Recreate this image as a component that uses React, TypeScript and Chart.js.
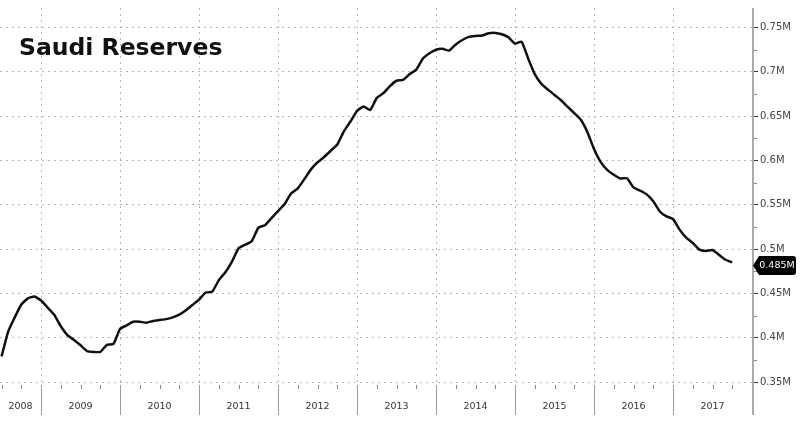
import React, { useEffect, useRef } from "react";
import { Chart, registerables } from "chart.js";

Chart.register(...registerables);

// Monthly series, June 2008 (month-end) through September 2017
const startYear = 2008;
const startMonth = 6; // June
const reserves: number[] = [
  0.379, 0.407, 0.423, 0.4375, 0.4445, 0.4465, 0.442,
  0.434, 0.426, 0.413, 0.403, 0.3975, 0.3915, 0.385, 0.384, 0.384, 0.392, 0.393, 0.41,
  0.414, 0.418, 0.418, 0.417, 0.419, 0.42, 0.421, 0.423, 0.426, 0.431, 0.437, 0.443,
  0.451, 0.452, 0.465, 0.474, 0.486, 0.501, 0.505, 0.509, 0.524, 0.527, 0.535, 0.543,
  0.551, 0.563, 0.5686, 0.579, 0.59, 0.598, 0.604, 0.611, 0.618, 0.633, 0.644, 0.656,
  0.661, 0.657, 0.6707, 0.676, 0.684, 0.69, 0.691, 0.6975, 0.7025, 0.715, 0.721, 0.725,
  0.726, 0.724, 0.731, 0.736, 0.7395, 0.7405, 0.741, 0.7435, 0.744, 0.7425, 0.739, 0.732,
  0.734, 0.715, 0.6975, 0.6865, 0.68, 0.674, 0.668, 0.6605, 0.6535, 0.646, 0.632, 0.613,
  0.5985, 0.5895, 0.584, 0.5797, 0.58, 0.5697, 0.566, 0.5618, 0.554, 0.5425, 0.537, 0.534,
  0.522, 0.513, 0.507, 0.4995, 0.498, 0.499, 0.4935, 0.488, 0.485,
];

const yearLabels: string[] = ["2008", "2009", "2010", "2011", "2012", "2013", "2014", "2015", "2016", "2017"];
const yearBoundaries: number[] = [2009, 2010, 2011, 2012, 2013, 2014, 2015, 2016, 2017, 2018];
const yTickValues: number[] = [0.35, 0.4, 0.45, 0.5, 0.55, 0.6, 0.65, 0.7, 0.75];
const yTickLabels: string[] = ["0.35M", "0.4M", "0.45M", "0.5M", "0.55M", "0.6M", "0.65M", "0.7M", "0.75M"];
const lastLabel = "0.485M";
const title = "Saudi Reserves";

const X_MIN = 2008.48;
const X_MAX = 2018;

export default function App() {
  const ref = useRef<HTMLCanvasElement>(null);

  useEffect(() => {
    if (!ref.current) return;
    const points = reserves.map((v, i) => ({
      x: startYear + (startMonth + i) / 12,
      y: v,
    }));

    const decor = {
      id: "decor",
      afterDraw(chart: any) {
        const ctx = chart.ctx;
        const xs = chart.scales.x;
        const ys = chart.scales.y;
        const area = chart.chartArea;
        const bandBottom = 415;
        ctx.save();

        // right axis line, full height
        ctx.strokeStyle = "#aaaaaa";
        ctx.lineWidth = 2;
        ctx.beginPath();
        ctx.moveTo(area.right + 1, area.top);
        ctx.lineTo(area.right + 1, bandBottom);
        ctx.stroke();

        // year separators
        ctx.strokeStyle = "#999999";
        ctx.lineWidth = 1;
        yearBoundaries.slice(0, -1).forEach((yr) => {
          const px = Math.round(xs.getPixelForValue(yr)) + 0.5;
          ctx.beginPath();
          ctx.moveTo(px, area.bottom + 1);
          ctx.lineTo(px, bandBottom);
          ctx.stroke();
        });

        // quarterly minor ticks
        ctx.strokeStyle = "#888888";
        for (let yr = 2008; yr < 2018; yr++) {
          for (let q = 1; q < 4; q++) {
            const v = yr + q / 4;
            if (v < X_MIN) continue;
            const px = Math.round(xs.getPixelForValue(v)) + 0.5;
            ctx.beginPath();
            ctx.moveTo(px, area.bottom + 1);
            ctx.lineTo(px, area.bottom + 5);
            ctx.stroke();
          }
        }

        // y minor ticks
        for (let i = 0; i < yTickValues.length - 1; i++) {
          const v = (yTickValues[i] + yTickValues[i + 1]) / 2;
          const py = Math.round(ys.getPixelForValue(v)) + 0.5;
          ctx.beginPath();
          ctx.moveTo(area.right + 2, py);
          ctx.lineTo(area.right + 5, py);
          ctx.stroke();
        }

        // year labels
        ctx.fillStyle = "#333333";
        ctx.font = "9.5px 'DejaVu Sans'";
        ctx.textAlign = "center";
        ctx.textBaseline = "middle";
        yearLabels.forEach((lab, i) => {
          const yr = 2008 + i;
          const a = xs.getPixelForValue(Math.max(X_MIN, yr));
          const b = xs.getPixelForValue(Math.min(X_MAX, yr + 1));
          ctx.fillText(lab, (a + b) / 2, 407);
        });

        // title
        ctx.fillStyle = "#111111";
        ctx.font = "bold 23.5px 'DejaVu Sans'";
        ctx.textAlign = "left";
        ctx.textBaseline = "alphabetic";
        ctx.fillText(title, 19, 55);

        // last value label
        const lastV = reserves[reserves.length - 1];
        const cy = ys.getPixelForValue(lastV) + 3;
        const x0 = area.right + 1;
        const x1 = 796;
        const h = 19;
        const r = 3;
        ctx.fillStyle = "#000000";
        ctx.beginPath();
        ctx.moveTo(x0, cy);
        ctx.lineTo(x0 + 6, cy - h / 2);
        ctx.lineTo(x1 - r, cy - h / 2);
        ctx.quadraticCurveTo(x1, cy - h / 2, x1, cy - h / 2 + r);
        ctx.lineTo(x1, cy + h / 2 - r);
        ctx.quadraticCurveTo(x1, cy + h / 2, x1 - r, cy + h / 2);
        ctx.lineTo(x0 + 6, cy + h / 2);
        ctx.closePath();
        ctx.fill();
        ctx.fillStyle = "#ffffff";
        ctx.font = "9.5px 'DejaVu Sans'";
        ctx.textAlign = "center";
        ctx.textBaseline = "middle";
        ctx.fillText(lastLabel, (x0 + 5 + x1) / 2, cy + 0.5);

        ctx.restore();
      },
    };

    const chart = new Chart(ref.current, {
      type: "line",
      data: {
        datasets: [
          {
            data: points,
            borderColor: "#111111",
            borderWidth: 2.5,
            pointRadius: 0,
            tension: 0.15,
            fill: false,
          },
        ],
      },
      options: {
        animation: false,
        responsive: true,
        maintainAspectRatio: false,
        layout: { padding: 0 },
        plugins: {
          legend: { display: false },
          tooltip: { enabled: false },
          title: { display: false },
        },
        scales: {
          x: {
            type: "linear",
            min: X_MIN,
            max: X_MAX,
            afterBuildTicks: (s: any) => {
              s.ticks = yearBoundaries.slice(0, -1).map((v) => ({ value: v }));
            },
            afterFit: (s: any) => {
              s.height = 39;
            },
            ticks: { display: false },
            grid: {
              color: "#b5b5b5",
              lineWidth: 1,
              drawTicks: false,
            },
            border: { display: false, dash: [2, 4] },
          },
          y: {
            type: "linear",
            position: "right",
            min: 0.3478,
            max: 0.7721,
            afterBuildTicks: (s: any) => {
              s.ticks = yTickValues.map((v) => ({ value: v }));
            },
            afterFit: (s: any) => {
              s.width = 48;
            },
            ticks: {
              color: "#444444",
              font: { family: "'DejaVu Sans'", size: 10 },
              padding: 2,
              callback: (_v: any, i: number) => yTickLabels[i],
            },
            grid: {
              color: "#b5b5b5",
              lineWidth: 1,
              tickLength: 6,
              tickColor: "#333333",
              tickBorderDash: [],
            } as any,
            border: { display: false, dash: [2, 4] } as any,
          },
        },
      },
      plugins: [decor],
    } as any);

    return () => chart.destroy();
  }, []);

  return (
    <div style={{ position: "absolute", left: 0, top: 0, width: 800, height: 423, background: "#ffffff" }}>
      <canvas ref={ref} />
    </div>
  );
}
